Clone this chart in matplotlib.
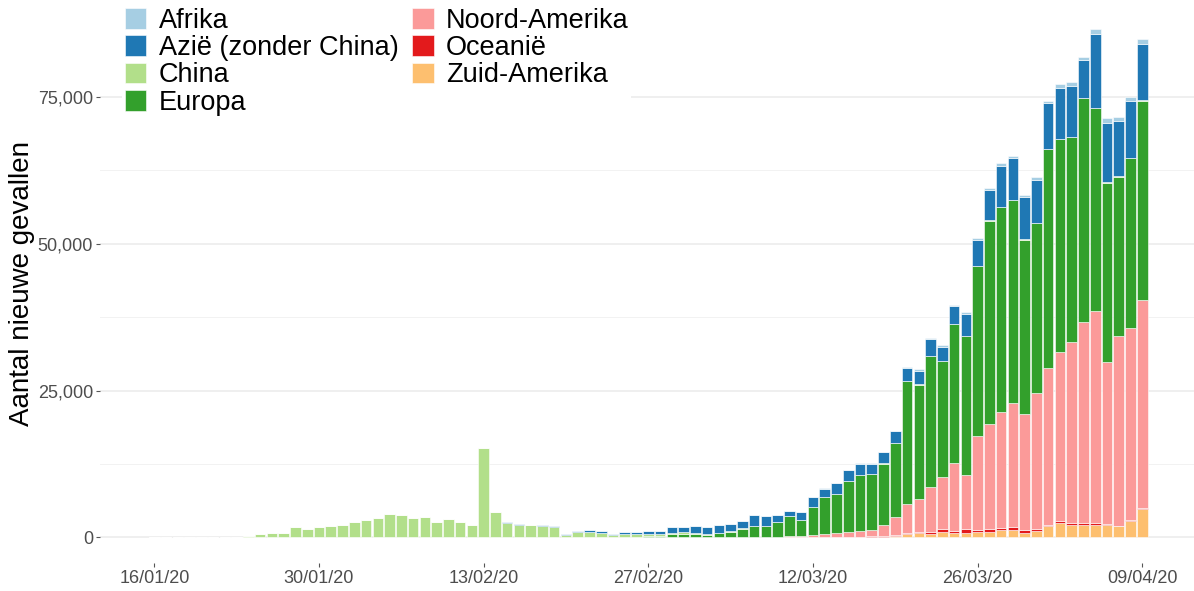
import numpy as np
import pandas as pd
import matplotlib
matplotlib.use('Agg')
import matplotlib.pyplot as plt
import matplotlib.dates as mdates
from matplotlib.ticker import FuncFormatter, FixedLocator

plt.rcParams['font.family'] = ['Liberation Sans', 'DejaVu Sans']

# ---- data (new cases per day, 16/01/2020 .. 09/04/2020) ----
dates = pd.date_range('2020-01-16', '2020-04-09', freq='D')

china = ([0, 0, 20, 140, 20, 150, 130, 100, 330, 560, 720, 840, 1710, 1420, 1710, 1940] +
         [2050, 2590, 2940, 3280, 3920, 3800, 3300, 3500, 2660, 3100, 2640, 2080, 15200, 4300,
          2540, 2050, 2050, 1950, 1860, 480, 1000, 860, 720, 270, 480, 420, 350, 330, 230] +
         [280, 200, 130, 120, 140, 140, 100, 50, 40, 20, 30, 20, 20, 20, 20, 30, 40, 30, 40, 40,
          50, 60, 80, 100, 50, 50, 60, 50, 40, 30, 50] +
         [40, 50, 50, 60, 40, 40, 40, 50, 70])

azie = ([0, 0, 0, 0, 0, 0, 20, 0, 0, 0, 0, 0, 0, 0, 0, 0] +
        [10, 10, 10, 10, 60, 20, 40, 10, 10, 10, 10, 10, 10, 10, 10, 170, 60, 100, 80, 90,
         140, 320, 360, 200, 330, 400, 500, 500, 1030] +
        [850, 1200, 1200, 1370, 1140, 1140, 1880, 1650, 1140, 850, 1250, 1650, 1370, 1770, 1770,
         1990, 1820, 1900, 2000, 2180, 2360, 2880, 2370, 2950, 3720, 4310, 5120, 6940, 7100, 7160,
         7340] +
        [7700, 8700, 8800, 6400, 12500, 10100, 9400, 9600, 9660])

europa = ([0] * 16 +
          [0] * 21 + [20, 60, 100, 100, 150, 200, 300, 510] +
          [640, 590, 440, 680, 890, 1410, 1820, 1850, 2530, 3400, 2710, 4830, 6410, 6760, 8760,
           9420, 9410, 10490, 12500, 21000, 19490, 22330, 19710, 23580, 23580, 28970, 34660, 35000,
           34490, 29720, 28980] +
          [37350, 36300, 34800, 38100, 34600, 30500, 27100, 29000, 33900])

noord_amerika = ([0] * 16 + [0] * 29 +
                 [10, 20, 20, 30, 40, 50, 70, 100, 110, 170, 280, 340, 460, 600, 800, 1000, 1150,
                  1900, 3130, 4940, 5510, 7670, 8810, 11650, 9320, 15910, 17890, 19700, 21200,
                  19710, 23000] +
                 [26600, 28760, 30850, 34150, 36100, 27600, 32300, 32600, 35400])

oceanie = ([0] * 16 + [0] * 29 +
           [0, 0, 0, 0, 0, 0, 0, 0, 0, 0, 10, 10, 20, 30, 40, 50, 50, 70, 120, 200,
            300, 250, 600, 300, 650, 450, 400, 400, 450, 500, 500] +
           [250, 350, 400, 400, 250, 150, 120, 150, 150])

zuid_amerika = ([0] * 16 + [0] * 29 +
                [0, 0, 0, 0, 0, 0, 0, 0, 0, 10, 10, 10, 30, 50, 60, 100, 120, 120, 300, 540,
                 700, 600, 910, 770, 740, 900, 960, 1200, 1250, 800, 1020] +
                [1950, 2440, 2050, 2100, 2160, 2160, 1900, 2840, 4900])

afrika = ([0] * 16 + [0] * 29 +
          [0, 0, 0, 0, 0, 0, 10, 10, 10, 10, 10, 20, 30, 50, 50, 60, 70, 100, 100, 150,
           200, 250, 250, 300, 300, 350, 450, 450, 450, 400, 500] +
          [500, 600, 600, 600, 1000, 800, 700, 700, 800])

legend_labels = ['Afrika', 'Azië (zonder China)', 'China', 'Europa',
                 'Noord-Amerika', 'Oceanië', 'Zuid-Amerika']
series = {
    'Afrika': afrika,
    'Azië (zonder China)': azie,
    'China': china,
    'Europa': europa,
    'Noord-Amerika': noord_amerika,
    'Oceanië': oceanie,
    'Zuid-Amerika': zuid_amerika,
}
colors = {
    'Afrika': '#A6CEE3',
    'Azië (zonder China)': '#1F78B4',
    'China': '#B2DF8A',
    'Europa': '#33A02C',
    'Noord-Amerika': '#FB9A99',
    'Oceanië': '#E31A1C',
    'Zuid-Amerika': '#FDBF6F',
}
x_tick_dates = ['2020-01-16', '2020-01-30', '2020-02-13', '2020-02-27',
                '2020-03-12', '2020-03-26', '2020-04-09']
y_ticks = [0, 25000, 50000, 75000]
y_minor = [12500, 37500, 62500]

# ---- figure ----
W, H = 1194, 591
fig = plt.figure(figsize=(W / 100, H / 100), dpi=100)
ax = fig.add_axes([100 / W, (H - 563) / H, 1 - 100 / W, (563 - 3) / H])

xnum = mdates.date2num(dates)
bottom = np.zeros(len(xnum))
handles = {}
for name in reversed(legend_labels):
    vals = np.array(series[name], dtype=float)
    b = ax.bar(xnum, vals, width=0.9, bottom=bottom, color=colors[name],
               edgecolor='white', linewidth=0.4, label=name)
    handles[name] = b
    bottom += vals

x0 = mdates.date2num(pd.Timestamp('2020-01-16'))
ax.set_xlim(x0 - 4.62, x0 + 88.4)
ax.set_ylim(-4350, 91000)

ax.xaxis.set_major_locator(FixedLocator(mdates.date2num(pd.to_datetime(x_tick_dates))))
ax.xaxis.set_major_formatter(mdates.DateFormatter('%d/%m/%y'))
ax.yaxis.set_major_locator(FixedLocator(y_ticks))
ax.yaxis.set_minor_locator(FixedLocator(y_minor))
ax.yaxis.set_major_formatter(FuncFormatter(lambda v, p: f'{int(v):,}'))

ax.set_axisbelow(True)
ax.yaxis.grid(True, which='major', color='#EBEBEB', linewidth=1.1)
ax.yaxis.grid(True, which='minor', color='#F2F2F2', linewidth=0.7)
ax.xaxis.grid(False)
for s in ax.spines.values():
    s.set_visible(False)
ax.tick_params(axis='both', which='major', length=3, width=0.8, color='#555555',
               labelcolor='#4D4D4D', labelsize=13, pad=2)
ax.tick_params(axis='y', which='minor', length=0)

ax.set_ylabel('Aantal nieuwe gevallen', fontsize=20, color='black', va='center')
ax.yaxis.set_label_coords(-78 / 1094, 0.5)

leg = ax.legend([handles[n] for n in legend_labels], legend_labels, ncol=2,
                loc='upper left', bbox_to_anchor=(122 / W, 1 - 5 / H), bbox_transform=fig.transFigure,
                fontsize=19.5, frameon=True, facecolor='white', edgecolor='none', framealpha=1,
                handlelength=0.8, handleheight=0.8, handletextpad=0.45, columnspacing=0.5,
                labelspacing=0.05, borderpad=0.1, borderaxespad=0)
leg.get_frame().set_linewidth(0)

fig.savefig('out.png', dpi=100, facecolor='white')
